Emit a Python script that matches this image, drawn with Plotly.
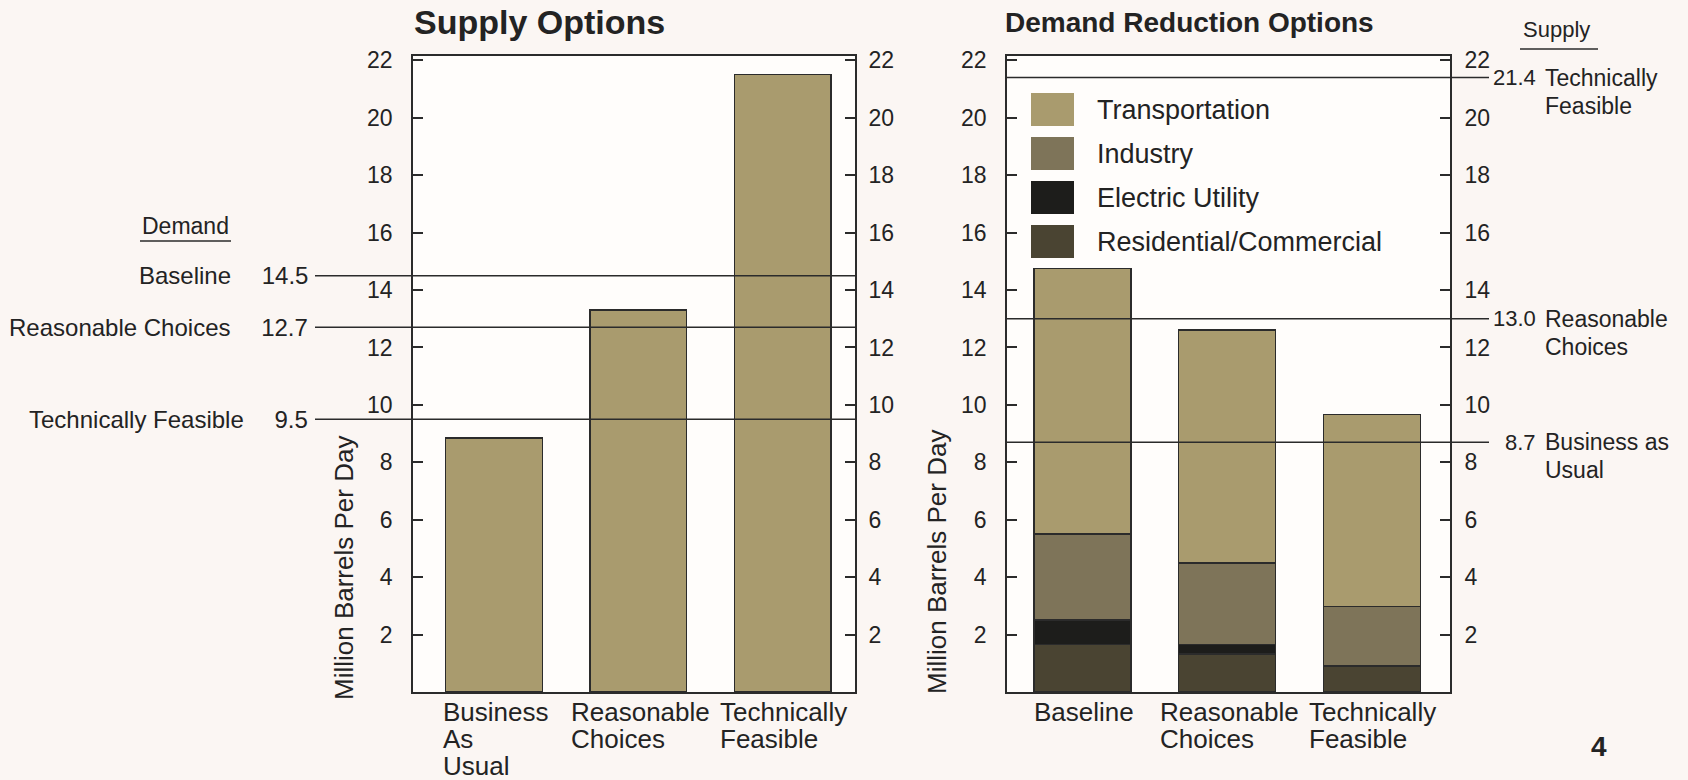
import plotly.graph_objects as go

W, H = 1688, 780

# ---- Supply Options (left panel) ----
supply_categories = ["Business As Usual", "Reasonable Choices", "Technically Feasible"]
supply_category_lines = [["Business", "As", "Usual"], ["Reasonable", "Choices"], ["Technically", "Feasible"]]
supply_values = [8.85, 13.3, 21.5]

demand_level_names = ["Baseline", "Reasonable Choices", "Technically Feasible"]
demand_levels = [14.5, 12.7, 9.5]

# ---- Demand Reduction Options (right panel) ----
demand_categories = ["Baseline", "Reasonable Choices", "Technically Feasible"]
demand_category_lines = [["Baseline"], ["Reasonable", "Choices"], ["Technically", "Feasible"]]
residential_commercial = [1.65, 1.33, 0.90]
electric_utility = [0.85, 0.33, 0.0]
industry = [3.00, 2.84, 2.07]
transportation = [9.25, 8.10, 6.70]

supply_levels = [21.4, 13.0, 8.7]
supply_level_lines = [["Technically", "Feasible"], ["Reasonable", "Choices"], ["Business as", "Usual"]]

y_tick_values = list(range(2, 23, 2))
y_range = [0, 22.15]

# ---- styling ----
FONT = "Liberation Sans, Arial, Helvetica, sans-serif"
INK = "#232323"
LINE = "#2b2b2b"
PAPER = "#fbf6f3"
PLOT = "#fffdfb"

C_TRANSPORT = "#a99b6e"
C_INDUSTRY = "#7e7459"
C_ELECTRIC = "#1d1d1b"
C_RESCOM = "#4a4432"

sectors = [
    ("Residential/Commercial", residential_commercial, C_RESCOM),
    ("Electric Utility", electric_utility, C_ELECTRIC),
    ("Industry", industry, C_INDUSTRY),
    ("Transportation", transportation, C_TRANSPORT),
]


def px(x):
    return x / W


def py(y):
    return 1 - y / H


ARIAL_W = dict(zip("abcdefghijklmnopqrstuvwxyz",
                   [.556, .556, .5, .556, .556, .278, .556, .556, .222, .222, .5, .222, .833,
                    .556, .556, .556, .556, .333, .5, .278, .556, .5, .722, .5, .5, .5]))
ARIAL_W.update({"B": .667, "R": .722, "T": .611, "A": .667, "U": .722, "C": .722, "F": .611, " ": .278})


def text_width(s, size):
    return sum(ARIAL_W.get(ch, .6) for ch in s) * size


L_DOM = [px(413), px(855)]
R_DOM = [px(1007), px(1450)]
Y_DOM = [py(692), py(56)]

fig = go.Figure()

fig.add_trace(go.Bar(
    x=supply_categories, y=supply_values, width=0.67,
    marker=dict(color=C_TRANSPORT, line=dict(color=LINE, width=1.5)),
    xaxis="x", yaxis="y", showlegend=False, hoverinfo="x+y",
))

for name, vals, color in sectors:
    fig.add_trace(go.Bar(
        x=demand_categories, y=vals, width=0.67, name=name,
        marker=dict(color=color, line=dict(color=LINE, width=1.5)),
        xaxis="x2", yaxis="y3", showlegend=False,
    ))

# bind the right-hand value axes so they are drawn
fig.add_trace(go.Scatter(x=supply_categories, y=supply_values, mode="none",
                         xaxis="x", yaxis="y2", showlegend=False, hoverinfo="skip"))
fig.add_trace(go.Scatter(x=demand_categories, y=transportation, mode="none",
                         xaxis="x2", yaxis="y4", showlegend=False, hoverinfo="skip"))

yax_common = dict(
    range=y_range, domain=Y_DOM, tickvals=y_tick_values, ticks="inside", ticklen=10,
    tickwidth=1.5, tickcolor=LINE, showline=True, linecolor=LINE, linewidth=1.6,
    showgrid=False, zeroline=False, tickfont=dict(family=FONT, size=23, color=INK),
    fixedrange=True, automargin=False,
)
xax_common = dict(
    type="category", showline=True, mirror=True, linecolor=LINE, linewidth=1.6,
    showticklabels=False, ticks="", showgrid=False, zeroline=False, fixedrange=True,
    automargin=False,
)

fig.update_layout(
    width=W, height=H, margin=dict(l=0, r=0, t=0, b=0, autoexpand=False),
    paper_bgcolor=PAPER, plot_bgcolor=PLOT, barmode="stack", bargap=0.3,
    font=dict(family=FONT, color=INK),
    xaxis=dict(domain=L_DOM, anchor="y", range=[-0.56, 2.5],
               categoryorder="array", categoryarray=supply_categories, **xax_common),
    yaxis=dict(anchor="x", side="left", ticklabelstandoff=14, **yax_common),
    yaxis2=dict(anchor="x", side="right", overlaying="y", ticklabelstandoff=7, **yax_common),
    xaxis2=dict(domain=R_DOM, anchor="y3", range=[-0.52, 2.54],
                categoryorder="array", categoryarray=demand_categories, **xax_common),
    yaxis3=dict(anchor="x2", side="left", ticklabelstandoff=14, **yax_common),
    yaxis4=dict(anchor="x2", side="right", overlaying="y3", ticklabelstandoff=8, **yax_common),
)

shapes = []
annotations = []


def note(text, x, y, size=23, xanchor="left", yanchor="middle", xref="paper", yref="paper", **kw):
    annotations.append(dict(text=text, x=x, y=y, xref=xref, yref=yref, xanchor=xanchor,
                            yanchor=yanchor, showarrow=False,
                            font=dict(family=FONT, size=size, color=INK), **kw))


# titles
note("<b>Supply Options</b>", px(412), py(22), size=34)
note("<b>Demand Reduction Options</b>", px(1003), py(22), size=28)

# y-axis titles
note("Million Barrels Per Day", px(344), py(568), size=26, xanchor="center", textangle=-90)
note("Million Barrels Per Day", px(937), py(562), size=26, xanchor="center", textangle=-90)

# category labels under the bars: first line centred, following lines left-aligned to it
CAT_SIZE = 26
for cats, lines_list, xref in ((supply_categories, supply_category_lines, "x"),
                               (demand_categories, demand_category_lines, "x2")):
    for cat, lines in zip(cats, lines_list):
        half = text_width(lines[0], CAT_SIZE) / 2
        for k, line in enumerate(lines):
            note(line, cat, py(712 + 27 * k), size=CAT_SIZE, xref=xref, xshift=-half)

# demand levels across the supply panel
note("Demand", px(140), py(226), size=23)
shapes.append(dict(type="line", xref="paper", yref="paper", x0=px(140), x1=px(231),
                   y0=py(241), y1=py(241), line=dict(color=LINE, width=1.5)))
for name, val in zip(demand_level_names, demand_levels):
    shapes.append(dict(type="line", xref="x domain", yref="y", x0=(315 - 413) / 442, x1=1,
                       y0=val, y1=val, line=dict(color=LINE, width=1.5), layer="above"))
    note(f"{name}\u2003 {val:.1f}", px(310), val, yref="y", xanchor="right", size=24)

# supply levels across the demand panel
note("Supply", px(1521), py(30), size=22)
shapes.append(dict(type="line", xref="paper", yref="paper", x0=px(1520), x1=px(1598),
                   y0=py(49), y1=py(49), line=dict(color=LINE, width=1.5)))
for val, lines in zip(supply_levels, supply_level_lines):
    shapes.append(dict(type="line", xref="x2 domain", yref="y3", x0=0, x1=(1489 - 1007) / 443,
                       y0=val, y1=val, line=dict(color=LINE, width=1.5), layer="above"))
    note(f"{val:.1f}", px(1538), val, yref="y3", xanchor="right", size=22)
    for k, line in enumerate(lines):
        note(line, px(1543), val, yref="y3", size=23, yshift=-28 * k)

# legend
legend_items = list(reversed([(n, c) for n, _, c in sectors]))
for k, (name, color) in enumerate(legend_items):
    top = 93 + 44 * k
    shapes.append(dict(type="rect", xref="paper", yref="paper", x0=px(1031), x1=px(1074),
                       y0=py(top + 33), y1=py(top), fillcolor=color, line=dict(width=0)))
    note(name, px(1095), py(top + 17), size=27)

# page number
note("<b>4</b>", px(1599), py(746), size=28, xanchor="center")

fig.update_layout(shapes=shapes, annotations=annotations)
fig.write_html("out.html")
